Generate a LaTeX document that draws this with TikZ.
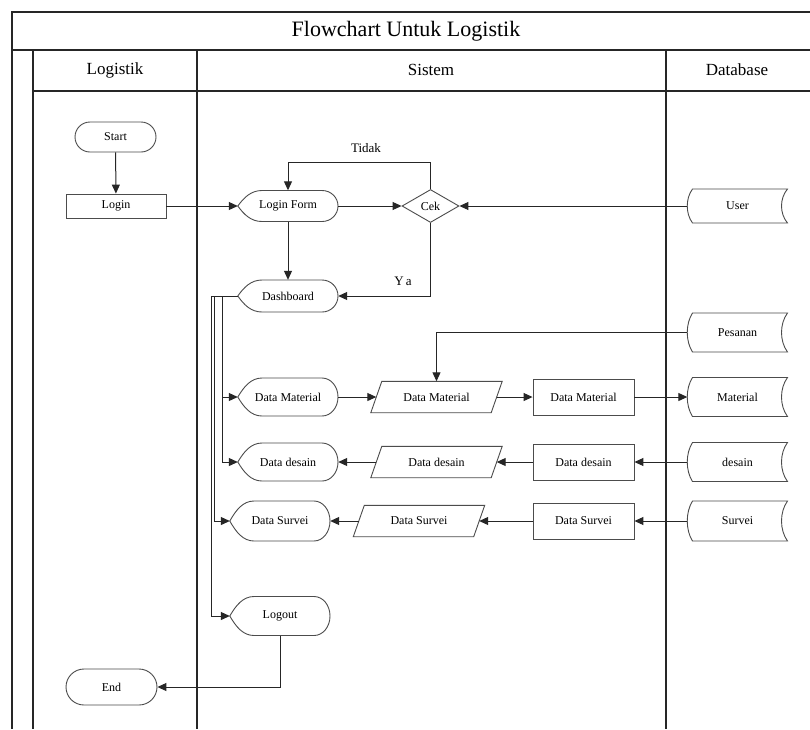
\documentclass[tikz,border=0pt]{standalone}
\usepackage{fontspec}
\setmainfont{Liberation Serif}
\usetikzlibrary{arrows.meta,shapes.geometric}

\tikzset{
  lane/.style={line width=1.3pt, draw=black!85},
  shp/.style={line width=0.9pt, draw=black!70},
  txt/.style={font=\fontsize{12}{14}\selectfont, inner sep=0pt, text=black},
  conn/.style={line width=1pt, draw=black!85, -{Triangle[length=9pt,width=8pt]}},
  link/.style={line width=1pt, draw=black!85},
  termbox/.style={txt, shp, draw, rounded corners=#1},
  procbox/.style={txt, shp, draw},
}

% display shape: pointed left end, rounded right end
% #1 name, #2 cx, #3 cy, #4 height, #5 text
\newcommand\dispnode[5]{%
  \node[txt, minimum width=100pt, minimum height=#4pt] (#1) at (#2,#3) {#5};
  \pgfmathsetmacro\hh{#4/2}%
  \draw[shp] (#1.west)
    .. controls ({#2-44},{#3-0.55*\hh}) and ({#2-37},{#3-\hh}) .. ({#2-26},{#3-\hh})
    -- ({#2+34},{#3-\hh})
    .. controls ({#2+43},{#3-\hh}) and ({#2+50},{#3-0.55*\hh}) .. ({#2+50},#3)
    .. controls ({#2+50},{#3+0.55*\hh}) and ({#2+43},{#3+\hh}) .. ({#2+34},{#3+\hh})
    -- ({#2-26},{#3+\hh})
    .. controls ({#2-37},{#3+\hh}) and ({#2-44},{#3+0.55*\hh}) .. (#1.west) -- cycle;
}

% stored data shape: convex left side, concave right side
\newcommand\storenode[5]{%
  \node[txt, minimum width=100pt, minimum height=#4pt] (#1) at (#2,#3) {#5};
  \pgfmathsetmacro\hh{#4/2}%
  \draw[shp] ({#2-45},{#3-\hh}) -- ({#2+50},{#3-\hh})
    .. controls ({#2+42},{#3-0.45*\hh}) and ({#2+42},{#3+0.45*\hh}) .. ({#2+50},{#3+\hh})
    -- ({#2-45},{#3+\hh})
    .. controls ({#2-52},{#3+0.45*\hh}) and ({#2-52},{#3-0.45*\hh}) .. ({#2-45},{#3-\hh}) -- cycle;
}

% parallelogram (input/output) leaning right
\newcommand\paranode[4]{%
  \node[txt, minimum width=120pt, minimum height=31pt] (#1) at (#2,#3) {#4};
  \draw[shp] ([xshift=5.5pt]#1.north west) -- ([xshift=5.5pt]#1.north east)
    -- ([xshift=-5.5pt]#1.south east) -- ([xshift=-5.5pt]#1.south west) -- cycle;
}

\begin{document}
\begin{tikzpicture}[x=1pt, y=-1pt]
\useasboundingbox (0,0) rectangle (810,729);
\fill[white] (0,0) rectangle (810,729);

% ---- swimlane frame ----
\draw[lane] (810,12) -- (12,12) -- (12,729);
\draw[lane] (12,50) -- (810,50);
\draw[lane] (33,50) -- (33,729);
\draw[lane] (33,91) -- (810,91);
\draw[lane] (197,50) -- (197,729);
\draw[lane] (666,50) -- (666,729);

\node[txt, font=\fontsize{22}{26}\selectfont] (title) at (406,31) {Flowchart Untuk Logistik};
\node[txt, font=\fontsize{17}{20}\selectfont] (hLog) at (115,70) {Logistik};
\node[txt, font=\fontsize{17}{20}\selectfont] (hSis) at (431,70) {Sistem};
\node[txt, font=\fontsize{17}{20}\selectfont] (hDb) at (737,70) {Database};

% ---- Logistik lane ----
\node[termbox=15pt, minimum width=81pt, minimum height=30pt] (start) at (115.5,137) {Start};
\node[procbox, minimum width=100pt, minimum height=24pt] (login) at (116,206) {Login};
\node[termbox=18pt, minimum width=91pt, minimum height=36pt] (end) at (111.5,687) {End};

% ---- Sistem lane ----
\dispnode{lform}{288}{206}{31}{Login Form}
\node[txt, shp, draw, diamond, aspect=1.75, minimum width=57pt, minimum height=33pt, inner sep=0pt] (cek) at (430.5,206) {Cek};
\dispnode{dash}{288}{296}{32}{Dashboard}

\dispnode{dmat}{288}{397}{38}{Data Material}
\paranode{pmat}{436.5}{397}{Data Material}
\node[procbox, minimum width=101pt, minimum height=36pt] (rmat) at (583.5,397) {Data Material};

\dispnode{ddes}{288}{462}{38}{Data desain}
\paranode{pdes}{436.5}{462}{Data desain}
\node[procbox, minimum width=101pt, minimum height=36pt] (rdes) at (583.5,462) {Data desain};

\dispnode{dsur}{280}{521}{40}{Data Survei}
\paranode{psur}{419}{521}{Data Survei}
\node[procbox, minimum width=101pt, minimum height=36pt] (rsur) at (583.5,521) {Data Survei};

\dispnode{logout}{280}{616}{39}{Logout}

% ---- Database lane ----
\storenode{user}{737.5}{206}{34}{User}
\storenode{pes}{737.5}{332.5}{39}{Pesanan}
\storenode{mat}{737.5}{397}{39}{Material}
\storenode{des}{737.5}{462}{39}{desain}
\storenode{sur}{737.5}{521}{40}{Survei}

% ---- connectors ----
\draw[conn] (start) -- (login);
\draw[conn] (login) -- (lform.west);
\draw[conn] (lform.east) -- (cek.west);
\draw[conn] (user.west) -- (cek.east);

\coordinate (loopT) at (288,162);
\draw[conn] (cek.north) |- (loopT) -- (lform.north);
\node[txt, font=\fontsize{13}{15}\selectfont] (tidak) at (366,148) {Tidak};

\draw[conn] (cek.south) -- (cek.south |- dash.east) -- (dash.east);
\node[txt, font=\fontsize{13}{15}\selectfont] (ya) at (403,281) {Y\kern2pt a};

\draw[conn] (lform.south) -- (dash.north);

% dashboard menu branches
\coordinate (busA) at (211,0);
\coordinate (busB) at (214.5,0);
\coordinate (busC) at (222,0);
\draw[conn] (dash.west) -| (busA |- logout.west) -- (logout.west);
\draw[conn] (dash.west) -| (busB |- dsur.west) -- (dsur.west);
\draw[conn] (dash.west) -| (busC |- ddes.west) -- (ddes.west);
\draw[conn] (busC |- dmat.west) -- (dmat.west);

% material flow
\draw[conn] (pes.west) -| (pmat.north);
\draw[conn] (dmat.east) -- (pmat.west);
\draw[conn] (pmat.east) -- (rmat.west);
\draw[conn] (rmat.east) -- (mat.west);

% desain flow
\draw[conn] (des.west) -- (rdes.east);
\draw[conn] (rdes.west) -- (pdes.east);
\draw[conn] (pdes.west) -- (ddes.east);

% survei flow
\draw[conn] (sur.west) -- (rsur.east);
\draw[conn] (rsur.west) -- (psur.east);
\draw[conn] (psur.west) -- (dsur.east);

\draw[conn] (logout.south) |- (end.east);
\end{tikzpicture}
\end{document}
